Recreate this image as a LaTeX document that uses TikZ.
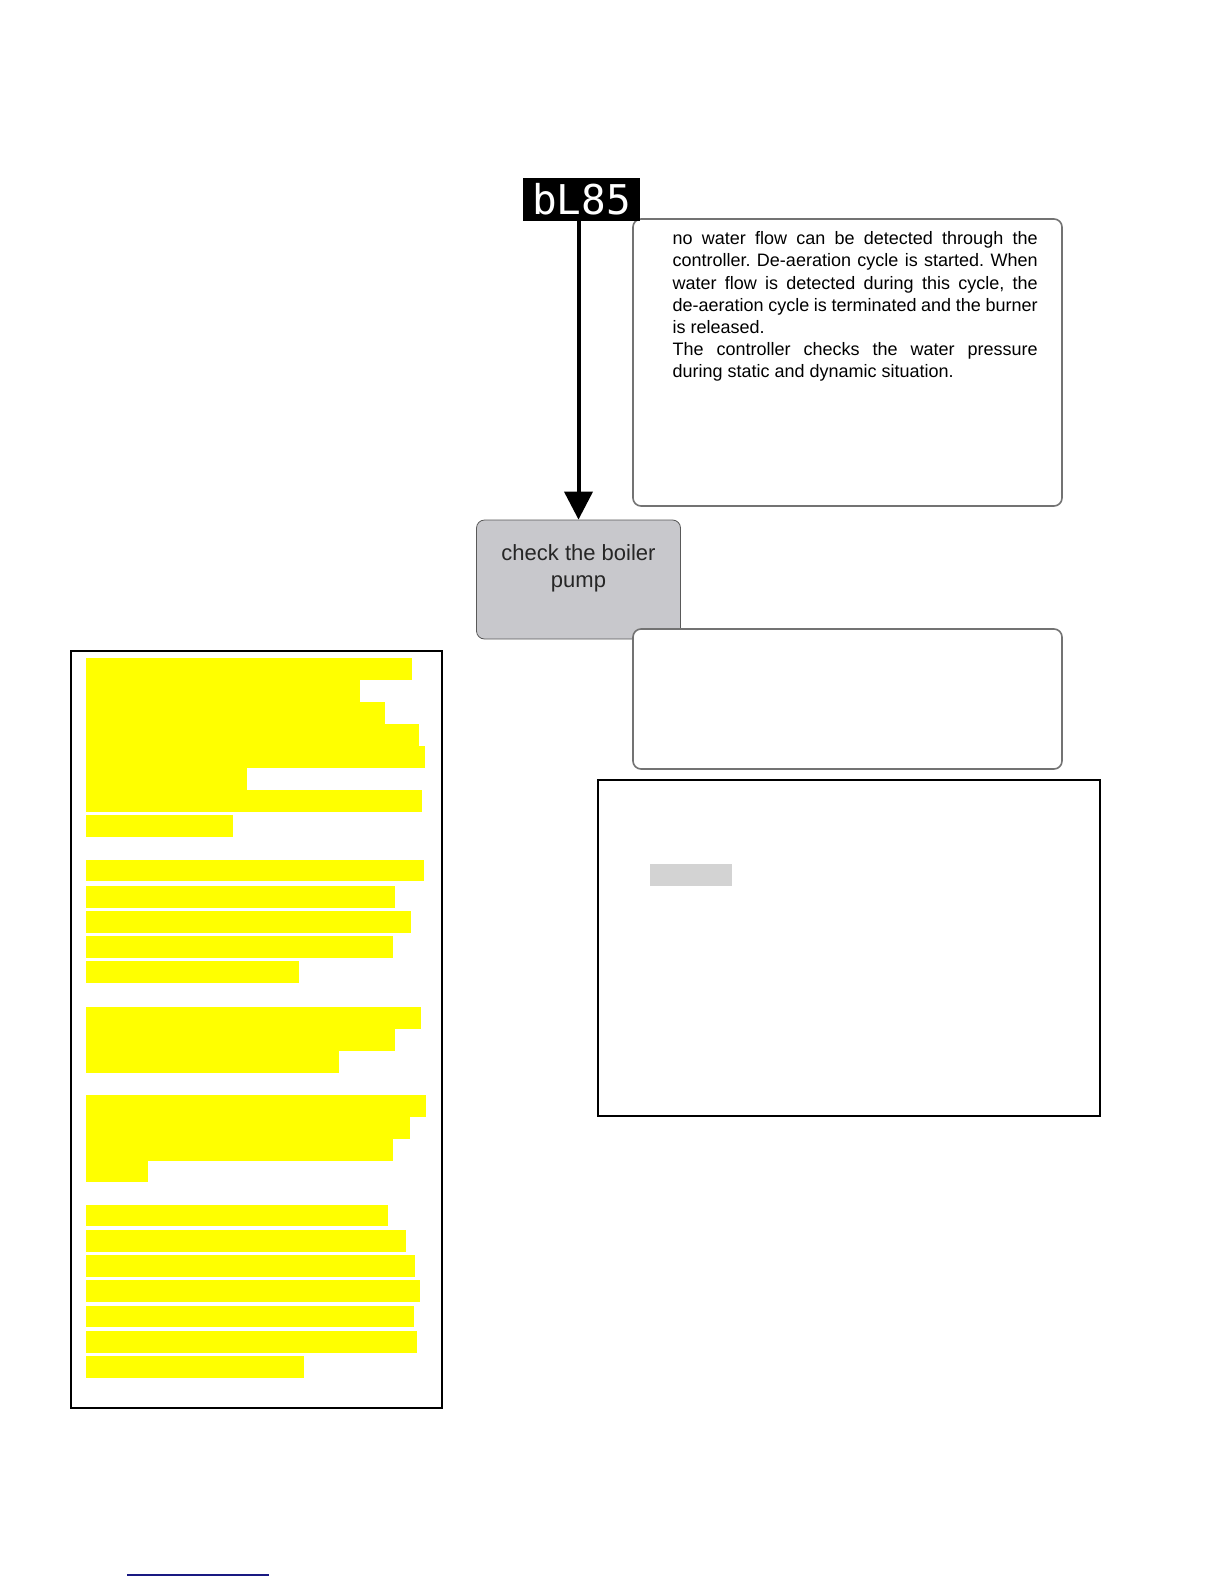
\documentclass[tikz,border=0pt]{standalone}
\usepackage{fontspec}
\setmainfont{Liberation Sans}
\newfontfamily\segfont{DejaVu Sans Mono}
\usetikzlibrary{arrows.meta, positioning}
\frenchspacing
\definecolor{boxgrey}{RGB}{200,200,204}
\definecolor{edgegrey}{RGB}{115,115,115}
\definecolor{markgrey}{RGB}{211,211,211}
\definecolor{linkblue}{RGB}{25,25,130}
\definecolor{marker}{RGB}{255,255,0}
\tikzset{display/.style={fill=black, text=white, inner sep=0pt, minimum width=58.5pt, minimum height=21.5pt, font=\segfont\fontsize{20.5}{21}\selectfont}}
\tikzset{flow/.style={line width=2pt, -{Triangle[width=14pt,length=14pt]}}}
\tikzset{pumpbox/.style={draw=black!65, fill=boxgrey, rounded corners=4pt, inner sep=0pt, minimum width=102pt, minimum height=59.5pt, font=\fontsize{11}{13.5}\selectfont, text=black!85}}
\tikzset{infobox/.style={draw=edgegrey, line width=0.8pt, fill=white, rounded corners=4pt, minimum width=214.5pt, inner sep=0pt}}
\tikzset{infotext/.style={anchor=north west, inner sep=0pt, text width=182.5pt, align=justify, font=\fontsize{9}{11.1}\selectfont}}
\tikzset{frame/.style={draw=black, line width=0.8pt}}

\begin{document}
\begin{tikzpicture}[x=0.5pt, y=-0.5pt]
    \useasboundingbox (0,0) rectangle (1224,1584);
    %Boxes on the right
    \node[infobox, minimum height=143.5pt] (info) at (847.5,362.5) {};
    \node[infotext] (infotxt) at ([shift={(40,13)}]info.north west) {no water flow can be detected through the\linebreak controller. De-aeration cycle is started. When\linebreak water flow is detected during this cycle, the\linebreak de-aeration cycle is terminated and the burner\linebreak is released.\par The controller checks the water pressure\linebreak during static and dynamic situation.};
    \node[pumpbox] (pump) at (578.5,579.5) {\parbox[c][59.5pt][t]{100pt}{\centering\vspace*{12.5pt}check the boiler\\pump}};
    \node[infobox, minimum height=70pt] (note) at (847.5,699) {};
    \node[display] (code) at (581.5,199.5) {bL85};
    \draw[flow] (pump.north |- code.south) -- (pump.north);
    %Frame with marker
    \draw[frame] (598,780) rectangle (1100,1116);
    \fill[markgrey] (650,864) rectangle (732,886);
    %Frame with highlighted lines
    \draw[frame] (71,651) rectangle (442,1408);
    \foreach \top/\bot/\right in {658/680/412, 680/702/360, 702/724/385, 724/746/419, 746/768/425, 768/790/247, 790/812/422, 815/837/233,
        860/881/424, 886/908/395, 911/933/411, 936/958/393, 961/983/299,
        1007/1029/421, 1029/1051/395, 1051/1073/339,
        1095/1117/426, 1117/1139/410, 1139/1161/393, 1161/1182/148,
        1205/1226/388, 1230/1252/406, 1255/1277/415, 1280/1302/420, 1306/1327/414, 1331/1353/417, 1356/1378/304}
        \fill[marker] (86,\top) rectangle (\right,\bot);
    %Link line
    \draw[linkblue, line width=1pt] (127,1575) -- (269,1575);
\end{tikzpicture}
\end{document}
